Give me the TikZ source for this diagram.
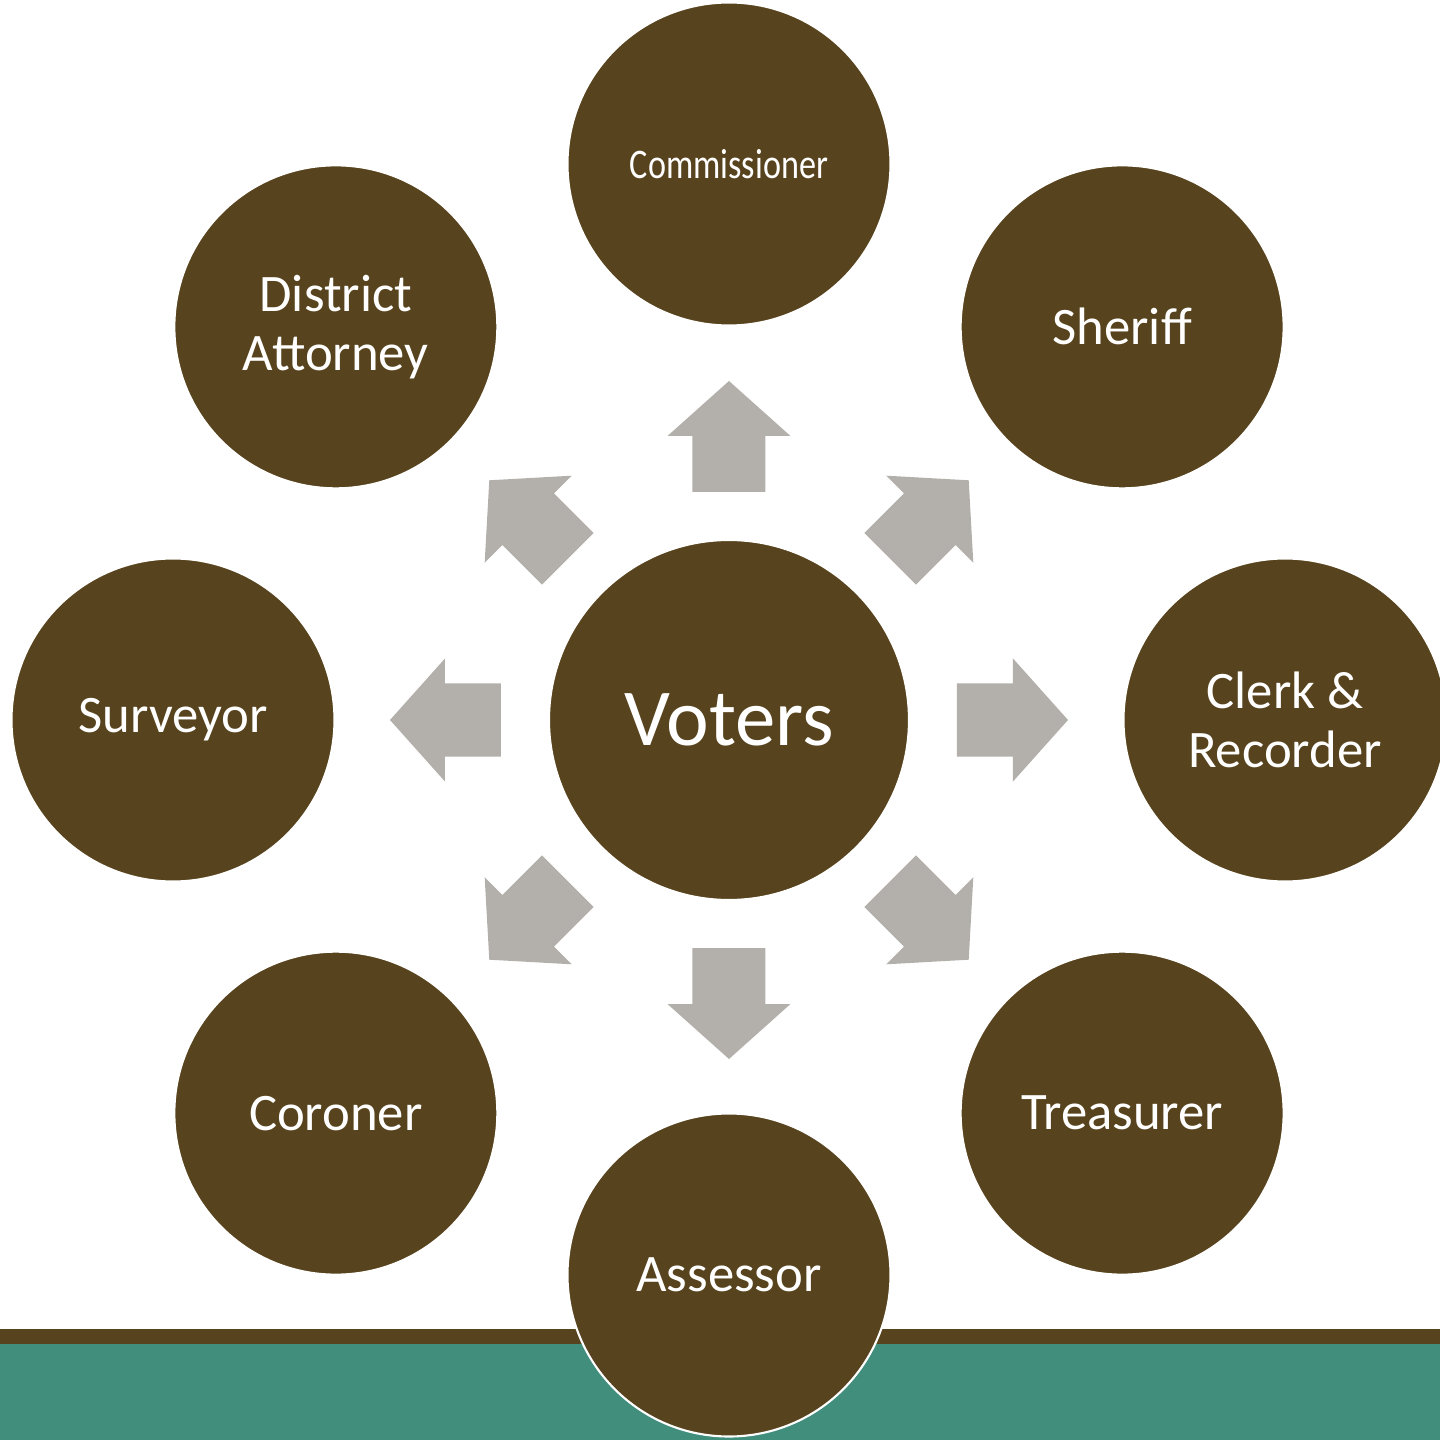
\documentclass[tikz,border=0pt]{standalone}
\usepackage{fontspec}
\setmainfont{Carlito}
\usetikzlibrary{calc}
\definecolor{cus-brown}{RGB}{87,67,29}
\definecolor{cus-teal}{RGB}{66,142,125}
\definecolor{cus-grey}{RGB}{179,176,171}

\tikzset{
	office/.style={circle, fill=cus-brown, draw=white, line width=0.6pt, minimum size=3.23cm, inner sep=0pt, text=white, align=center, font=\fontsize{15}{16.8}\selectfont},
	hub/.style={office, minimum size=3.6cm, font=\fontsize{23}{27}\selectfont}
}

\begin{document}
\begin{tikzpicture}
\useasboundingbox (-7.29,-7.20) rectangle (7.11,7.20);
\clip (-7.29,-7.20) rectangle (7.11,7.20);
% band at the bottom
\fill [cus-teal] (-7.29,-7.20) rectangle (7.11,-6.24);
\fill [cus-brown] (-7.29,-6.24) rectangle (7.11,-6.09);

\node [hub] (voters) at (0,0) {Voters};

% block arrows round the hub
\foreach \a in {0,45,...,315}{
	\fill [cus-grey, rotate=\a] (2.28,-0.365) -- (2.84,-0.365) -- (2.84,-0.615) -- (3.39,0) -- (2.84,0.615) -- (2.84,0.365) -- (2.28,0.365) -- cycle;
}

\node [office] (commissioner) at (90:5.56) {\fontsize{12}{14}\selectfont\scalebox{0.81}[1]{Commissioner}};
\node [office] (sheriff) at (45:5.56) {Sheriff};
\node [office] (clerk) at (0:5.56) {Clerk \&\\Recorder};
\node [office] (treasurer) at (-45:5.56) {Treasurer};
\node [office] (assessor) at (-90:5.55) {Assessor};
\node [office] (coroner) at (-135:5.56) {Coroner};
\node [office] (surveyor) at (180:5.56) {Surveyor};
\node [office] (attorney) at (135:5.56) {District\\Attorney};
\end{tikzpicture}
\end{document}
